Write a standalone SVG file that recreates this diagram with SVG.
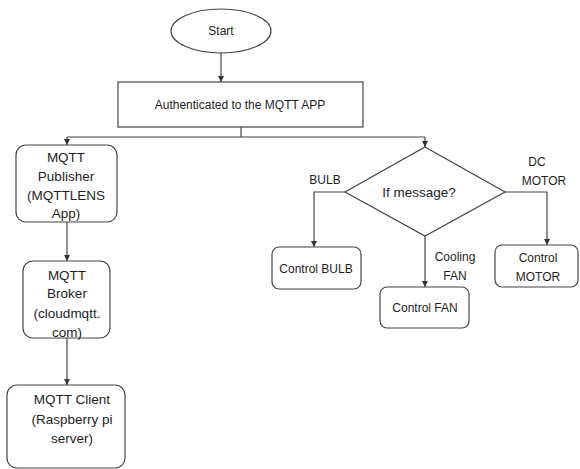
<svg xmlns="http://www.w3.org/2000/svg" width="580" height="469" viewBox="0 0 580 469">
<style>
.n{fill:#fff;stroke:#444;stroke-width:1.2}
.c{fill:none;stroke:#444;stroke-width:1.2}
text{font-family:"Liberation Sans",Arial,sans-serif;font-size:12px;fill:#1e1e1e;text-anchor:middle}
.l{font-size:13.5px}
</style>
<defs>
<marker id="ah" viewBox="0 0 6 6" refX="6" refY="3" markerWidth="5" markerHeight="5" orient="auto">
<path d="M0,0 L6,3 L0,6 Z" fill="#333"/>
</marker>
</defs>
<rect width="580" height="469" fill="#fff"/>
<g id="connectors">
<path class="c" d="M221,53 V82" marker-end="url(#ah)"/>
<path class="c" d="M241,127 V137"/>
<path class="c" d="M67,137 H425"/>
<path class="c" d="M67,137 V145" marker-end="url(#ah)"/>
<path class="c" d="M425,137 V147" marker-end="url(#ah)"/>
<path class="c" d="M67,222 V261" marker-end="url(#ah)"/>
<path class="c" d="M67,338 V385" marker-end="url(#ah)"/>
<path class="c" d="M345,192 H314 V247" marker-end="url(#ah)"/>
<path class="c" d="M425,236 V287" marker-end="url(#ah)"/>
<path class="c" d="M505,192 H547 V245" marker-end="url(#ah)"/>
</g>
<g id="start">
<ellipse class="n" cx="221" cy="31" rx="50" ry="22"/>
<text x="221" y="35">Start</text>
</g>
<g id="auth">
<rect class="n" x="118" y="82" width="245" height="45"/>
<text x="240" y="109">Authenticated to the MQTT APP</text>
</g>
<g id="publisher">
<rect class="n" x="16" y="145" width="101" height="77" rx="10"/>
<text class="l" x="66" y="162">MQTT</text>
<text class="l" x="66" y="181">Publisher</text>
<text class="l" x="66" y="200">(MQTTLENS</text>
<text class="l" x="66" y="218">App)</text>
</g>
<g id="broker">
<rect class="n" x="23" y="261" width="87" height="77" rx="10"/>
<text class="l" x="67" y="280">MQTT</text>
<text class="l" x="67" y="298">Broker</text>
<text class="l" x="67" y="318">(cloudmqtt.</text>
<text class="l" x="67" y="337">com)</text>
</g>
<g id="client">
<rect class="n" x="7" y="385" width="118" height="83" rx="10"/>
<text class="l" x="72" y="404">MQTT Client</text>
<text class="l" x="72" y="424">(Raspberry pi</text>
<text class="l" x="72" y="443">server)</text>
</g>
<g id="decision">
<polygon class="n" points="425,147 505,192 425,236 345,192"/>
<text class="l" x="419" y="197">If message?</text>
</g>
<g id="bulb">
<rect class="n" x="272" y="247" width="89" height="42" rx="7"/>
<text x="316" y="273">Control BULB</text>
<text x="325" y="184">BULB</text>
</g>
<g id="fan">
<rect class="n" x="380" y="287" width="89" height="41" rx="7"/>
<text x="425" y="312">Control FAN</text>
<text x="455" y="261">Cooling</text>
<text x="455" y="280">FAN</text>
</g>
<g id="motor">
<rect class="n" x="495" y="245" width="83" height="42" rx="7"/>
<text x="538" y="262">Control</text>
<text x="538" y="281">MOTOR</text>
<text x="537" y="166">DC</text>
<text x="544" y="185">MOTOR</text>
</g>
</svg>
